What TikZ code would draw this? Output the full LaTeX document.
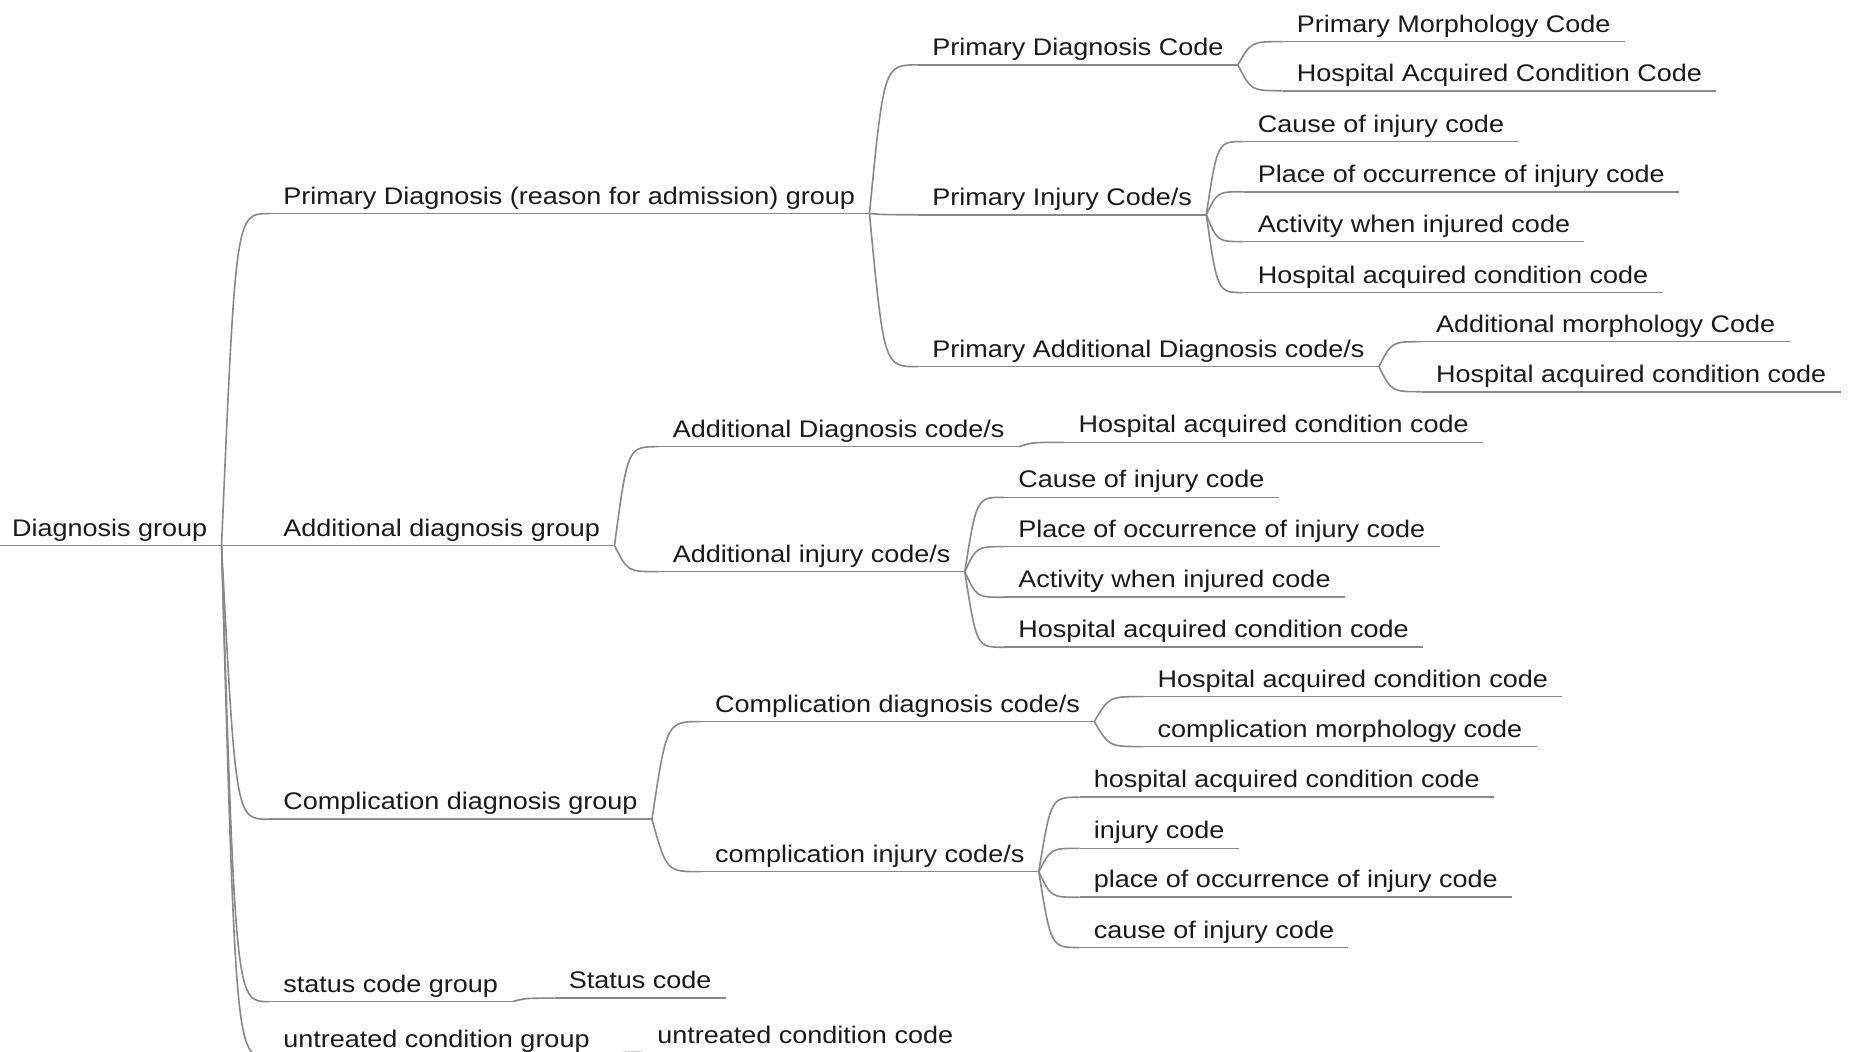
\documentclass[tikz,border=0pt]{standalone}
\usepackage{fontspec}
\setmainfont{Liberation Sans}[FakeStretch=1.125]
\usetikzlibrary{calc}
\definecolor{lncol}{HTML}{888888}
\definecolor{txcol}{HTML}{1A1A1A}
\begin{document}
\begin{tikzpicture}[x=0.59pt,y=-0.59pt,
  topic/.style={anchor=south west, inner xsep=7pt, inner ysep=0pt,
    text height=9pt, text depth=4.5pt,
    font=\fontsize{12}{14}\selectfont, text=txcol},
  lnk/.style={draw=lncol, line width=0.8pt}]
\useasboundingbox (0,0) rectangle (1568,891);
\clip (0,0) rectangle (1568,891);
\fill[white] (0,0) rectangle (1568,891);

% level 0
\node[topic] (R) at (-2,462.4) {Diagnosis group};
% level 1
\node[topic] (A) at (228,181) {Primary Diagnosis (reason for admission) group};
\node[topic] (B) at (228,462.4) {Additional diagnosis group};
\node[topic] (C) at (228,694.4) {Complication diagnosis group};
\node[topic] (D) at (228,849) {status code group};
\node[topic] (E) at (228,896) {untreated condition group};
% level 2
\node[topic] (A1) at (778,55) {Primary Diagnosis Code};
\node[topic] (A2) at (778,182) {Primary Injury Code/s};
\node[topic] (A3) at (778,310.8) {Primary Additional Diagnosis code/s};
\node[topic] (B1) at (558,378.6) {Additional Diagnosis code/s};
\node[topic] (B2) at (558,484.5) {Additional injury code/s};
\node[topic] (C1) at (594,611.6) {Complication diagnosis code/s};
\node[topic] (C2) at (594,738.8) {complication injury code/s};
\node[topic] (D1) at (470,846) {Status code};
\node[topic] (E1) at (545,892) {untreated condition code};
% level 3
\node[topic] (A1a) at (1087,35.3) {Primary Morphology Code};
\node[topic] (A1b) at (1087,76.9) {Hospital Acquired Condition Code};
\node[topic] (A2a) at (1054,120) {Cause of injury code};
\node[topic] (A2b) at (1054,162.5) {Place of occurrence of injury code};
\node[topic] (A2c) at (1054,204.8) {Activity when injured code};
\node[topic] (A2d) at (1054,248) {Hospital acquired condition code};
\node[topic] (A3a) at (1205,289.6) {Additional morphology Code};
\node[topic] (A3b) at (1205,332) {Hospital acquired condition code};
\node[topic] (B1a) at (902,374.9) {Hospital acquired condition code};
\node[topic] (B2a) at (851,421.5) {Cause of injury code};
\node[topic] (B2b) at (851,463.3) {Place of occurrence of injury code};
\node[topic] (B2c) at (851,506.2) {Activity when injured code};
\node[topic] (B2d) at (851,548.6) {Hospital acquired condition code};
\node[topic] (C1a) at (969,590.4) {Hospital acquired condition code};
\node[topic] (C1b) at (969,632.8) {complication morphology code};
\node[topic] (C2a) at (915,675.7) {hospital acquired condition code};
\node[topic] (C2b) at (915,719) {injury code};
\node[topic] (C2c) at (915,760.5) {place of occurrence of injury code};
\node[topic] (C2d) at (915,803.1) {cause of injury code};

% underlines
\foreach \n in {R,A,B,C,D,E,A1,A2,A3,B1,B2,C1,C2,D1,E1,A1a,A1b,A2a,A2b,A2c,A2d,A3a,A3b,B1a,B2a,B2b,B2c,B2d,C1a,C1b,C2a,C2b,C2c,C2d}
  \draw[lnk] (\n.south west) -- (\n.south east);

% connectors
\foreach \pa/\ch in {R/A,R/B,R/C,R/D,R/E,A/A1,A/A2,A/A3,B/B1,B/B2,C/C1,C/C2,D/D1,E/E1,
  A1/A1a,A1/A1b,A2/A2a,A2/A2b,A2/A2c,A2/A2d,A3/A3a,A3/A3b,B1/B1a,
  B2/B2a,B2/B2b,B2/B2c,B2/B2d,C1/C1a,C1/C1b,C2/C2a,C2/C2b,C2/C2c,C2/C2d}
  \draw[lnk] let \p1=(\pa.south east), \p2=(\ch.south west) in
    (\p1) .. controls ({\x1+0.3*(\x2-\x1)},\y2) .. (\p2);
\end{tikzpicture}
\end{document}
